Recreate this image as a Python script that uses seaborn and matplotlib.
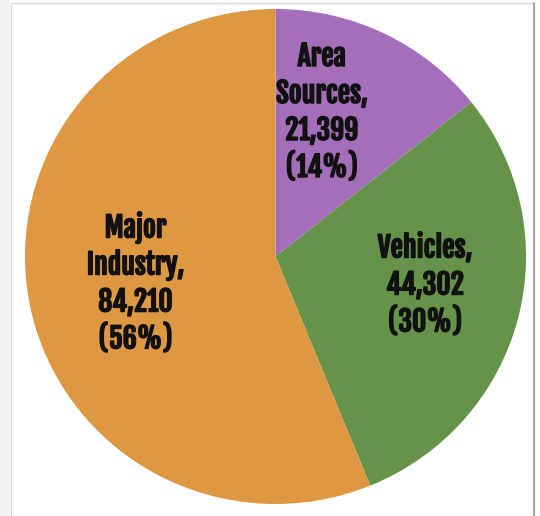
import matplotlib
matplotlib.use("Agg")
import matplotlib.pyplot as plt
import matplotlib.patheffects as pe
from matplotlib.patches import Rectangle
import seaborn as sns

# Emission sources and totals
categories = ["Area\nSources", "Vehicles", "Major\nIndustry"]
values = [21399, 44302, 84210]
colors = ["#A46EBB", "#65934A", "#DE9842"]

sns.set_theme(style="white")
plt.rcParams["font.family"] = ["Fjalla One", "Roboto Condensed", "DejaVu Sans"]

W, H = 540, 516
fig = plt.figure(figsize=(W / 100, H / 100), dpi=100)
fig.patch.set_facecolor("white")

# panel frame
fig.patches.append(Rectangle((0, 0), 10 / W, 1, transform=fig.transFigure,
                             facecolor="#F1F1F1", edgecolor="none", zorder=0))
fig.patches.append(Rectangle((10.5 / W, -0.01), 523.5 / W, (513 / H) + 0.01,
                             transform=fig.transFigure, facecolor="none",
                             edgecolor="#D8D8D8", linewidth=1.0, zorder=0))
fig.add_artist(plt.Line2D([534 / W, 534 / W], [0, 513 / H], transform=fig.transFigure,
                          color="#9A9A9A", linewidth=1.2))

ax = fig.add_axes([25 / W, 12 / H, 501 / W, 495 / H])
wedges, _ = ax.pie(values, colors=colors, startangle=90, counterclock=False,
                   radius=1.0, wedgeprops=dict(linewidth=0))
ax.set_aspect("auto")
ax.set_xlim(-1, 1)
ax.set_ylim(-1, 1)
ax.axis("off")

total = sum(values)
label_pos = [(0.185, 0.584), (0.597, -0.115), (-0.559, -0.107)]
for name, v, (x, y) in zip(categories, values, label_pos):
    pct = round(100 * v / total)
    ax.text(x, y, f"{name},\n{v:,}\n({pct}%)", ha="center", va="center",
            fontsize=20, fontweight="bold", color="#111111", linespacing=1.24,
            path_effects=[pe.withStroke(linewidth=1.1, foreground="#111111")])

fig.savefig("out.png", dpi=100, facecolor="white")
